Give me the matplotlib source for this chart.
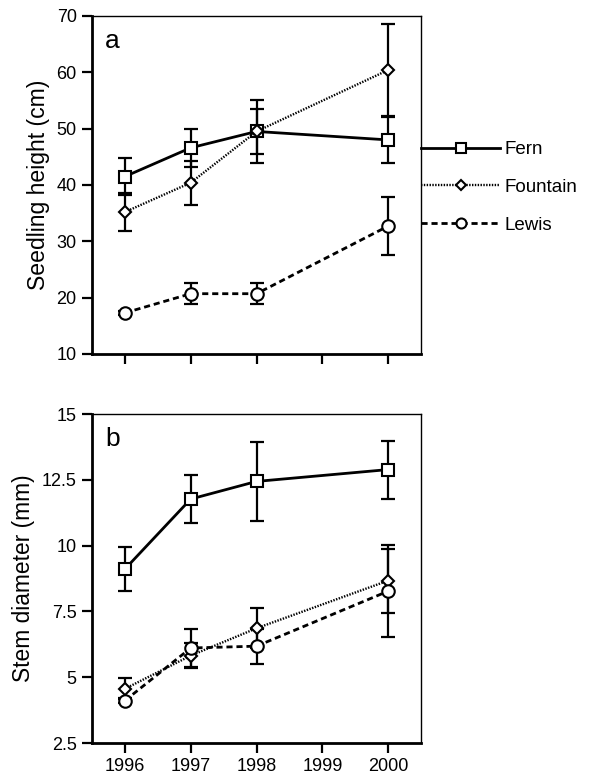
import matplotlib
matplotlib.use('Agg')
import matplotlib.pyplot as plt

plt.rcParams['font.family'] = ['Liberation Sans', 'DejaVu Sans']

years = [1996, 1997, 1998, 2000]
sites = ['Fern', 'Fountain', 'Lewis']

# seedling height (cm), mean and error
height = {'Fern': [41.5, 46.6, 49.5, 48.0],
          'Fountain': [35.2, 40.4, 49.5, 60.4],
          'Lewis': [17.3, 20.7, 20.7, 32.7]}
height_err = {'Fern': [3.2, 3.4, 5.6, 4.1],
              'Fountain': [3.4, 3.9, 4.0, 8.1],
              'Lewis': [0.3, 1.9, 1.9, 5.2]}

# stem diameter (mm), mean and error
diam = {'Fern': [9.11, 11.77, 12.44, 12.89],
        'Fountain': [4.56, 5.82, 6.86, 8.67],
        'Lewis': [4.11, 6.11, 6.18, 8.27]}
diam_err = {'Fern': [0.82, 0.9, 1.5, 1.1],
            'Fountain': [0.4, 0.48, 0.76, 1.22],
            'Lewis': [0.1, 0.73, 0.67, 1.75]}

styles = {'Fern': dict(ls='-', lw=2.0, marker='s', ms=9),
          'Fountain': dict(ls=(0, (0.6, 0.6)), lw=1.7, marker='D', ms=6),
          'Lewis': dict(ls=(0, (2.2, 1.4)), lw=2.0, marker='o', ms=9)}

fig = plt.figure(figsize=(5.91, 7.79), dpi=100)
ax1 = fig.add_axes([0.1557, 0.5456, 0.5567, 0.4339])
ax2 = fig.add_axes([0.1557, 0.0462, 0.5567, 0.4223])

def draw(ax, vals, errs):
    handles = []
    for s in sites:
        st = styles[s]
        ax.errorbar(years, vals[s], yerr=errs[s], fmt='none', ecolor='black',
                    elinewidth=1.6, capsize=5, capthick=1.6, zorder=2)
        h, = ax.plot(years, vals[s], color='black', ls=st['ls'], lw=st['lw'],
                     marker=st['marker'], ms=st['ms'], mfc='white', mec='black',
                     mew=1.5, zorder=3, label=s)
        handles.append(h)
    ax.set_xlim(1995.5, 2000.5)
    ax.set_xticks([1996, 1997, 1998, 1999, 2000])
    ax.tick_params(direction='out', length=7, width=1.6, labelsize=13, pad=4)
    for side in ['left', 'bottom']:
        ax.spines[side].set_linewidth(2.0)
    for side in ['top', 'right']:
        ax.spines[side].set_linewidth(1.0)
    return handles

handles = draw(ax1, height, height_err)
ax1.set_ylim(10, 70)
ax1.set_yticks([10, 20, 30, 40, 50, 60, 70])
ax1.set_xticklabels([])
ax1.set_ylabel('Seedling height (cm)', fontsize=16.6, labelpad=5)
ax1.text(0.04, 0.96, 'a', transform=ax1.transAxes, fontsize=19, va='top')

draw(ax2, diam, diam_err)
ax2.set_ylim(2.5, 15)
ax2.set_yticks([2.5, 5, 7.5, 10, 12.5, 15])
ax2.set_yticklabels(['2.5', '5', '7.5', '10', '12.5', '15'])
ax2.set_ylabel('Stem diameter (mm)', fontsize=16.4, labelpad=5)
ax2.text(0.04, 0.96, 'b', transform=ax2.transAxes, fontsize=19, va='top')

fig.legend(handles=handles, loc='upper left', bbox_to_anchor=(0.713, 0.819),
           frameon=False, fontsize=13.5, handlelength=4.2, handletextpad=0.25,
           labelspacing=1.1, borderaxespad=0, borderpad=0, markerscale=0.8)

fig.savefig('out.png', dpi=100)
